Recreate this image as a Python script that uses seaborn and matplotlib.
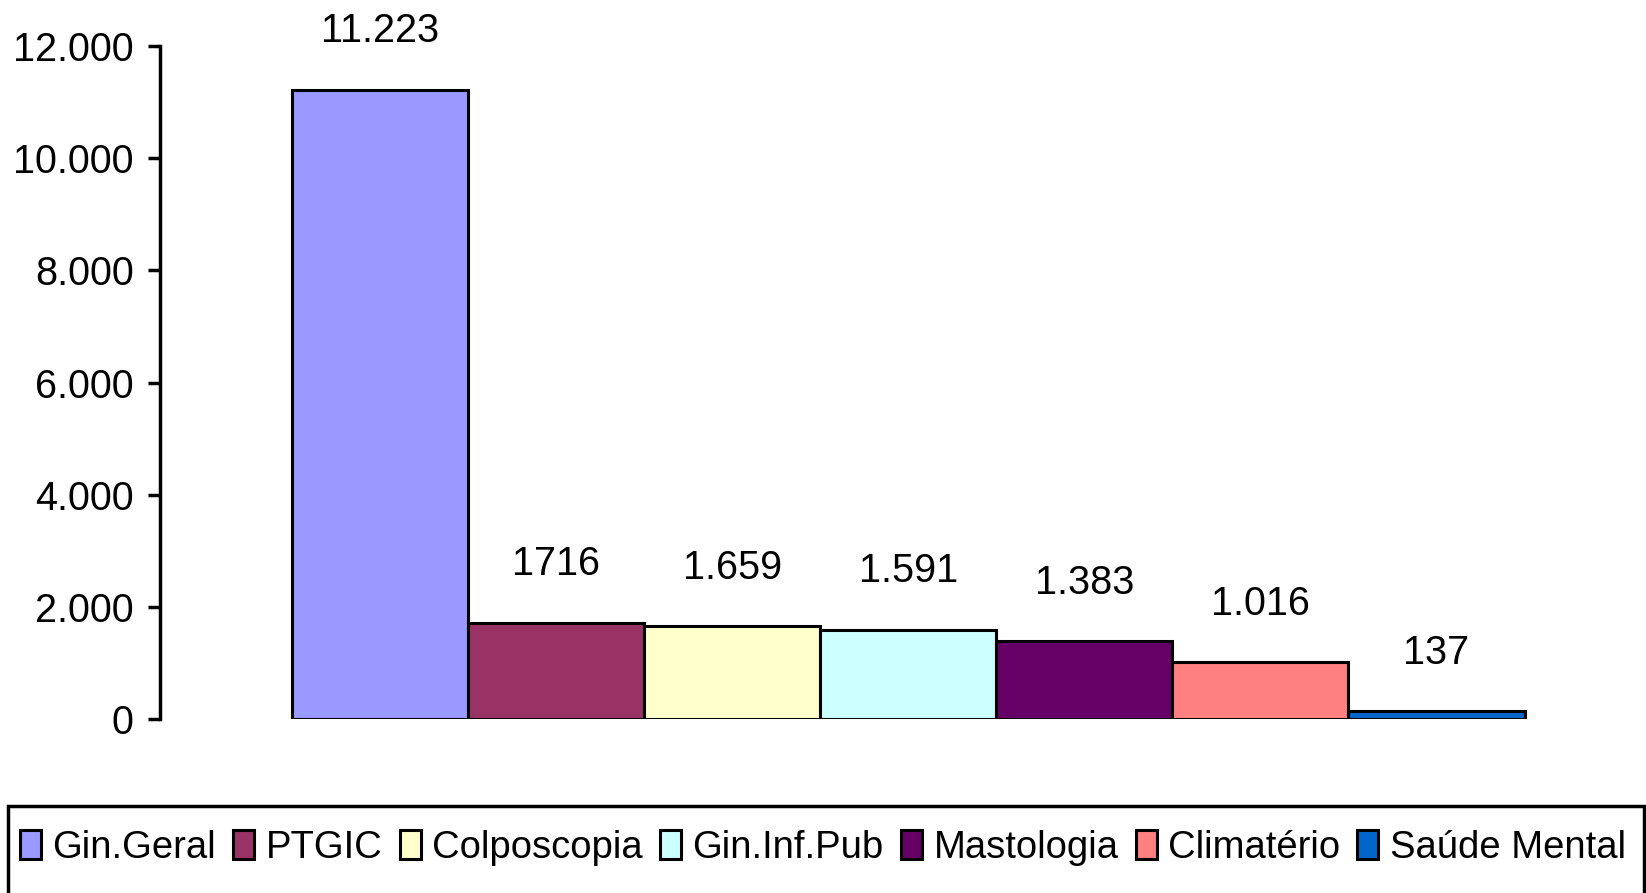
import matplotlib
matplotlib.use('Agg')
import matplotlib.pyplot as plt
from matplotlib.patches import Patch, Rectangle
import seaborn as sns
import pandas as pd

# data
categorias = ['Gin.Geral', 'PTGIC', 'Colposcopia', 'Gin.Inf.Pub',
              'Mastologia', 'Climatério', 'Saúde Mental']
valores = [11223, 1716, 1659, 1591, 1383, 1016, 137]
rotulos = ['11.223', '1716', '1.659', '1.591', '1.383', '1.016', '137']
cores = ['#9999FF', '#993366', '#FFFFCC', '#CCFFFF', '#660066', '#FF8080', '#0066CC']
yticks = [0, 2000, 4000, 6000, 8000, 10000, 12000]
ytick_labels = ['0', '2.000', '4.000', '6.000', '8.000', '10.000', '12.000']

sns.set_style('white')
plt.rcParams['font.family'] = ['Liberation Sans', 'DejaVu Sans']
plt.rcParams['text.color'] = 'black'
plt.rcParams['ytick.color'] = 'black'

df = pd.DataFrame({'cat': categorias, 'val': valores})

fig = plt.figure(figsize=(16.46, 8.93), dpi=100)
ax = fig.add_axes([160/1646, (893-719)/893, 1 - 160/1646, (719-46)/893])

sns.barplot(data=df, x='cat', y='val', hue='cat', palette=cores, width=1.0,
            saturation=1, edgecolor='black', linewidth=2.2, legend=False,
            ax=ax, dodge=False)

for i, (v, lab) in enumerate(zip(valores, rotulos)):
    ax.annotate(lab, (i, v), xytext=(0, 42), textcoords='offset points',
                ha='center', va='center', fontsize=28.5, annotation_clip=False)

ax.set_xlim(-1.25, 7.19)
ax.set_ylim(0, 12000)
ax.set_yticks(yticks)
ax.set_yticklabels(ytick_labels, fontsize=28.5)
ax.set_xticks([])
ax.set_xlabel('')
ax.set_ylabel('')
for s in ['top', 'right', 'bottom']:
    ax.spines[s].set_visible(False)
ax.spines['left'].set_linewidth(2.5)
ax.spines['left'].set_color('black')
ax.tick_params(axis='y', direction='out', length=9, width=2.5, color='black',
               labelcolor='black', pad=10, left=True)

# legend box running off the bottom edge
fig.patches.append(Rectangle((8/1646, -0.1), (1644-8)/1646, 0.1 + (893-806)/893,
                             transform=fig.transFigure, fill=False,
                             edgecolor='black', linewidth=2.5))
handles = [Patch(facecolor=c, edgecolor='black', linewidth=2.2) for c in cores]
fig.legend(handles, categorias, loc='center', bbox_to_anchor=(0.5, 45/893),
           ncol=7, frameon=False, fontsize=27.5, handlelength=0.55, handleheight=0.8,
           handletextpad=0.3, columnspacing=0.45)

fig.savefig('out.png', dpi=100)
